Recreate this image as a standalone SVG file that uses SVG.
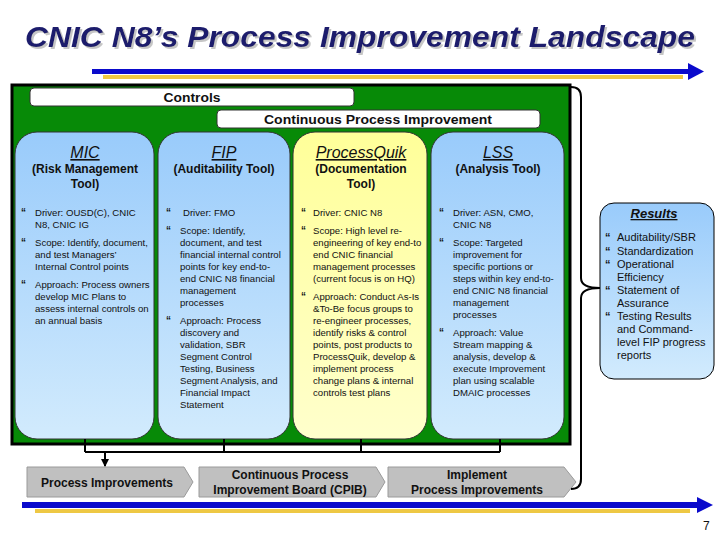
<svg xmlns="http://www.w3.org/2000/svg" width="720" height="540" viewBox="0 0 720 540">
<defs>
<linearGradient id="gBlue" x1="0" y1="0" x2="0" y2="1">
<stop offset="0" stop-color="#99cbfb"/>
<stop offset="1" stop-color="#d2ebfd"/>
</linearGradient>
<linearGradient id="gYellow" x1="0" y1="0" x2="0" y2="1">
<stop offset="0" stop-color="#ffff99"/>
<stop offset="1" stop-color="#ffffcc"/>
</linearGradient>
<filter id="sh" x="-5%" y="-30%" width="110%" height="160%">
<feDropShadow dx="2" dy="2" stdDeviation="0.6" flood-color="#a0a0a0" flood-opacity="0.6"/>
</filter>
<marker id="ah" markerWidth="8" markerHeight="8" refX="7" refY="4" orient="auto" markerUnits="userSpaceOnUse">
<path d="M0,0 L8,4 L0,8 Z" fill="#000"/>
</marker>
<style>
text{font-family:"Liberation Sans",Arial,sans-serif;fill:#111}
.title{font-size:30px;font-weight:bold;font-style:italic;fill:#1c1c6c}
.bar{fill:#fff;stroke:#333;stroke-width:1}
.barT{font-size:13.5px;font-weight:bold;text-anchor:middle}
.col{stroke:#333;stroke-width:1}
.hd{font-size:16px;font-style:italic;text-decoration:underline;text-anchor:middle}
.sub{font-size:12px;font-weight:bold;text-anchor:middle}
.b{font-size:9.6px}
.bu{font-size:10px;font-weight:bold}
.rb{font-size:11px}
.rbu{font-size:11px;font-weight:bold}
.chev{fill:#c0c0c0;stroke:#9a9a9a;stroke-width:1}
.chT{font-size:12px;font-weight:bold;text-anchor:middle}
.ln{fill:none;stroke:#000;stroke-width:2}
</style>
</defs>

<g id="title">
<text class="title" x="360" y="47" text-anchor="middle" textLength="670" lengthAdjust="spacingAndGlyphs" filter="url(#sh)">CNIC N8’s Process Improvement Landscape</text>
</g>

<g id="top-arrow">
<rect x="92" y="69" width="598" height="5" fill="#0a0acc"/>
<polygon points="688,63 704,71.5 688,80" fill="#0a0acc"/>
<rect x="103" y="75" width="580" height="4" fill="#eec844"/>
</g>

<g id="frame">
<rect x="12" y="85" width="558" height="359" fill="#078a07" stroke="#000" stroke-width="3"/>
</g>

<g id="controls">
<rect class="bar" x="30" y="88" width="324" height="18" rx="4"/>
<text class="barT" x="192" y="102" textLength="57" lengthAdjust="spacingAndGlyphs">Controls</text>
</g>

<g id="cpi">
<rect class="bar" x="217" y="110" width="323" height="18" rx="4"/>
<text class="barT" x="378" y="124" textLength="228" lengthAdjust="spacingAndGlyphs">Continuous Process Improvement</text>
</g>

<g id="mic">
<rect class="col" x="15" y="132" width="139" height="307" rx="22" fill="url(#gBlue)"/>
<text class="hd" x="85" y="158">MIC</text>
<text class="sub" x="85" y="173">(Risk Management</text>
<text class="sub" x="85" y="188">Tool)</text>
<text class="bu" x="21" y="216">“</text>
<text class="b" x="35" y="216">Driver: OUSD(C), CNIC</text>
<text class="b" x="35" y="228">N8, CNIC IG</text>
<text class="bu" x="21" y="246">“</text>
<text class="b" x="35" y="246">Scope: Identify, document,</text>
<text class="b" x="35" y="258">and test Managers’</text>
<text class="b" x="35" y="270">Internal Control points</text>
<text class="bu" x="21" y="288">“</text>
<text class="b" x="35" y="288">Approach: Process owners</text>
<text class="b" x="35" y="300">develop MIC Plans to</text>
<text class="b" x="35" y="312">assess internal controls on</text>
<text class="b" x="35" y="324">an annual basis</text>
</g>

<g id="fip">
<rect class="col" x="158" y="132" width="132" height="307" rx="22" fill="url(#gBlue)"/>
<text class="hd" x="224" y="158">FIP</text>
<text class="sub" x="224" y="173">(Auditability Tool)</text>
<text class="bu" x="166" y="216">“</text>
<text class="b" x="183" y="216">Driver: FMO</text>
<text class="bu" x="166" y="234">“</text>
<text class="b" x="180" y="234">Scope: Identify,</text>
<text class="b" x="180" y="246">document, and test</text>
<text class="b" x="180" y="258">financial internal control</text>
<text class="b" x="180" y="270">points for key end-to-</text>
<text class="b" x="180" y="282">end CNIC N8 financial</text>
<text class="b" x="180" y="294">management</text>
<text class="b" x="180" y="306">processes</text>
<text class="bu" x="166" y="324">“</text>
<text class="b" x="180" y="324">Approach: Process</text>
<text class="b" x="180" y="336">discovery and</text>
<text class="b" x="180" y="348">validation, SBR</text>
<text class="b" x="180" y="360">Segment Control</text>
<text class="b" x="180" y="372">Testing, Business</text>
<text class="b" x="180" y="384">Segment Analysis, and</text>
<text class="b" x="180" y="396">Financial Impact</text>
<text class="b" x="180" y="408">Statement</text>
</g>

<g id="processquik">
<rect class="col" x="293" y="132" width="134" height="307" rx="22" fill="url(#gYellow)"/>
<text class="hd" x="361" y="158">ProcessQuik</text>
<text class="sub" x="361" y="173">(Documentation</text>
<text class="sub" x="361" y="188">Tool)</text>
<text class="bu" x="301" y="216">“</text>
<text class="b" x="313" y="216">Driver: CNIC N8</text>
<text class="bu" x="301" y="234">“</text>
<text class="b" x="313" y="234">Scope: High level re-</text>
<text class="b" x="313" y="246">engineering of key end-to</text>
<text class="b" x="313" y="258">end CNIC financial</text>
<text class="b" x="313" y="270">management processes</text>
<text class="b" x="313" y="282">(current focus is on HQ)</text>
<text class="bu" x="301" y="300">“</text>
<text class="b" x="313" y="300">Approach: Conduct As-Is</text>
<text class="b" x="313" y="312">&amp;To-Be focus groups to</text>
<text class="b" x="313" y="324">re-engineer processes,</text>
<text class="b" x="313" y="336">identify risks &amp; control</text>
<text class="b" x="313" y="348">points, post products to</text>
<text class="b" x="313" y="360">ProcessQuik, develop &amp;</text>
<text class="b" x="313" y="372">implement process</text>
<text class="b" x="313" y="384">change plans &amp; internal</text>
<text class="b" x="313" y="396">controls test plans</text>
</g>

<g id="lss">
<rect class="col" x="431" y="132" width="133" height="307" rx="22" fill="url(#gBlue)"/>
<text class="hd" x="498" y="158">LSS</text>
<text class="sub" x="498" y="173">(Analysis Tool)</text>
<text class="bu" x="439" y="216">“</text>
<text class="b" x="453" y="216">Driver: ASN, CMO,</text>
<text class="b" x="453" y="228">CNIC N8</text>
<text class="bu" x="439" y="246">“</text>
<text class="b" x="453" y="246">Scope: Targeted</text>
<text class="b" x="453" y="258">improvement for</text>
<text class="b" x="453" y="270">specific portions or</text>
<text class="b" x="453" y="282">steps within key end-to-</text>
<text class="b" x="453" y="294">end CNIC N8 financial</text>
<text class="b" x="453" y="306">management</text>
<text class="b" x="453" y="318">processes</text>
<text class="bu" x="439" y="336">“</text>
<text class="b" x="453" y="336">Approach: Value</text>
<text class="b" x="453" y="348">Stream mapping &amp;</text>
<text class="b" x="453" y="360">analysis, develop &amp;</text>
<text class="b" x="453" y="372">execute Improvement</text>
<text class="b" x="453" y="384">plan using scalable</text>
<text class="b" x="453" y="396">DMAIC processes</text>
</g>

<g id="results">
<rect x="600" y="203" width="114" height="176" rx="14" fill="url(#gBlue)" stroke="#000" stroke-width="1"/>
<text x="654" y="218" style="font-size:13px;font-weight:bold;font-style:italic;text-decoration:underline" text-anchor="middle">Results</text>
<text class="rbu" x="605" y="241">“</text>
<text class="rb" x="617" y="241">Auditability/SBR</text>
<text class="rbu" x="605" y="255">“</text>
<text class="rb" x="617" y="255">Standardization</text>
<text class="rbu" x="605" y="268">“</text>
<text class="rb" x="617" y="268">Operational</text>
<text class="rb" x="617" y="281">Efficiency</text>
<text class="rbu" x="605" y="294">“</text>
<text class="rb" x="617" y="294">Statement of</text>
<text class="rb" x="617" y="307">Assurance</text>
<text class="rbu" x="605" y="320">“</text>
<text class="rb" x="617" y="320">Testing Results</text>
<text class="rb" x="617" y="333">and Command-</text>
<text class="rb" x="617" y="346">level FIP progress</text>
<text class="rb" x="617" y="359">reports</text>
</g>

<g id="process-improvements">
<polygon class="chev" points="27,467 184,467 193,482 184,497 27,497"/>
<text class="chT" x="107" y="487">Process Improvements</text>
</g>

<g id="cpib">
<polygon class="chev" points="199,467 376,467 385,482 376,497 199,497"/>
<text class="chT" x="290" y="479">Continuous Process</text>
<text class="chT" x="290" y="494">Improvement Board (CPIB)</text>
</g>

<g id="implement">
<polygon class="chev" points="388,467 564,467 576,482 564,497 388,497"/>
<text class="chT" x="477" y="479">Implement</text>
<text class="chT" x="477" y="494">Process Improvements</text>
</g>

<g id="connectors">
<path class="ln" d="M85,439 V452 M224,439 V452 M361,439 V452 M500,439 V452 M85,452 H500"/>
<path class="ln" d="M105,452 V466" marker-end="url(#ah)" stroke-width="1.5"/>
<path class="ln" stroke-width="2.5" d="M571,87 Q581,87 581,97 L581,278 Q581,288 600,288 Q581,288 581,298 L581,479 Q581,489 571,489"/>
</g>

<g id="bottom-arrow">
<rect x="22" y="502" width="677" height="6" fill="#0a0acc"/>
<polygon points="697,497 713,505 697,513" fill="#0a0acc"/>
<rect x="35" y="509" width="655" height="4" fill="#eec844"/>
</g>

<text x="703" y="530" style="font-size:12px">7</text>
</svg>
